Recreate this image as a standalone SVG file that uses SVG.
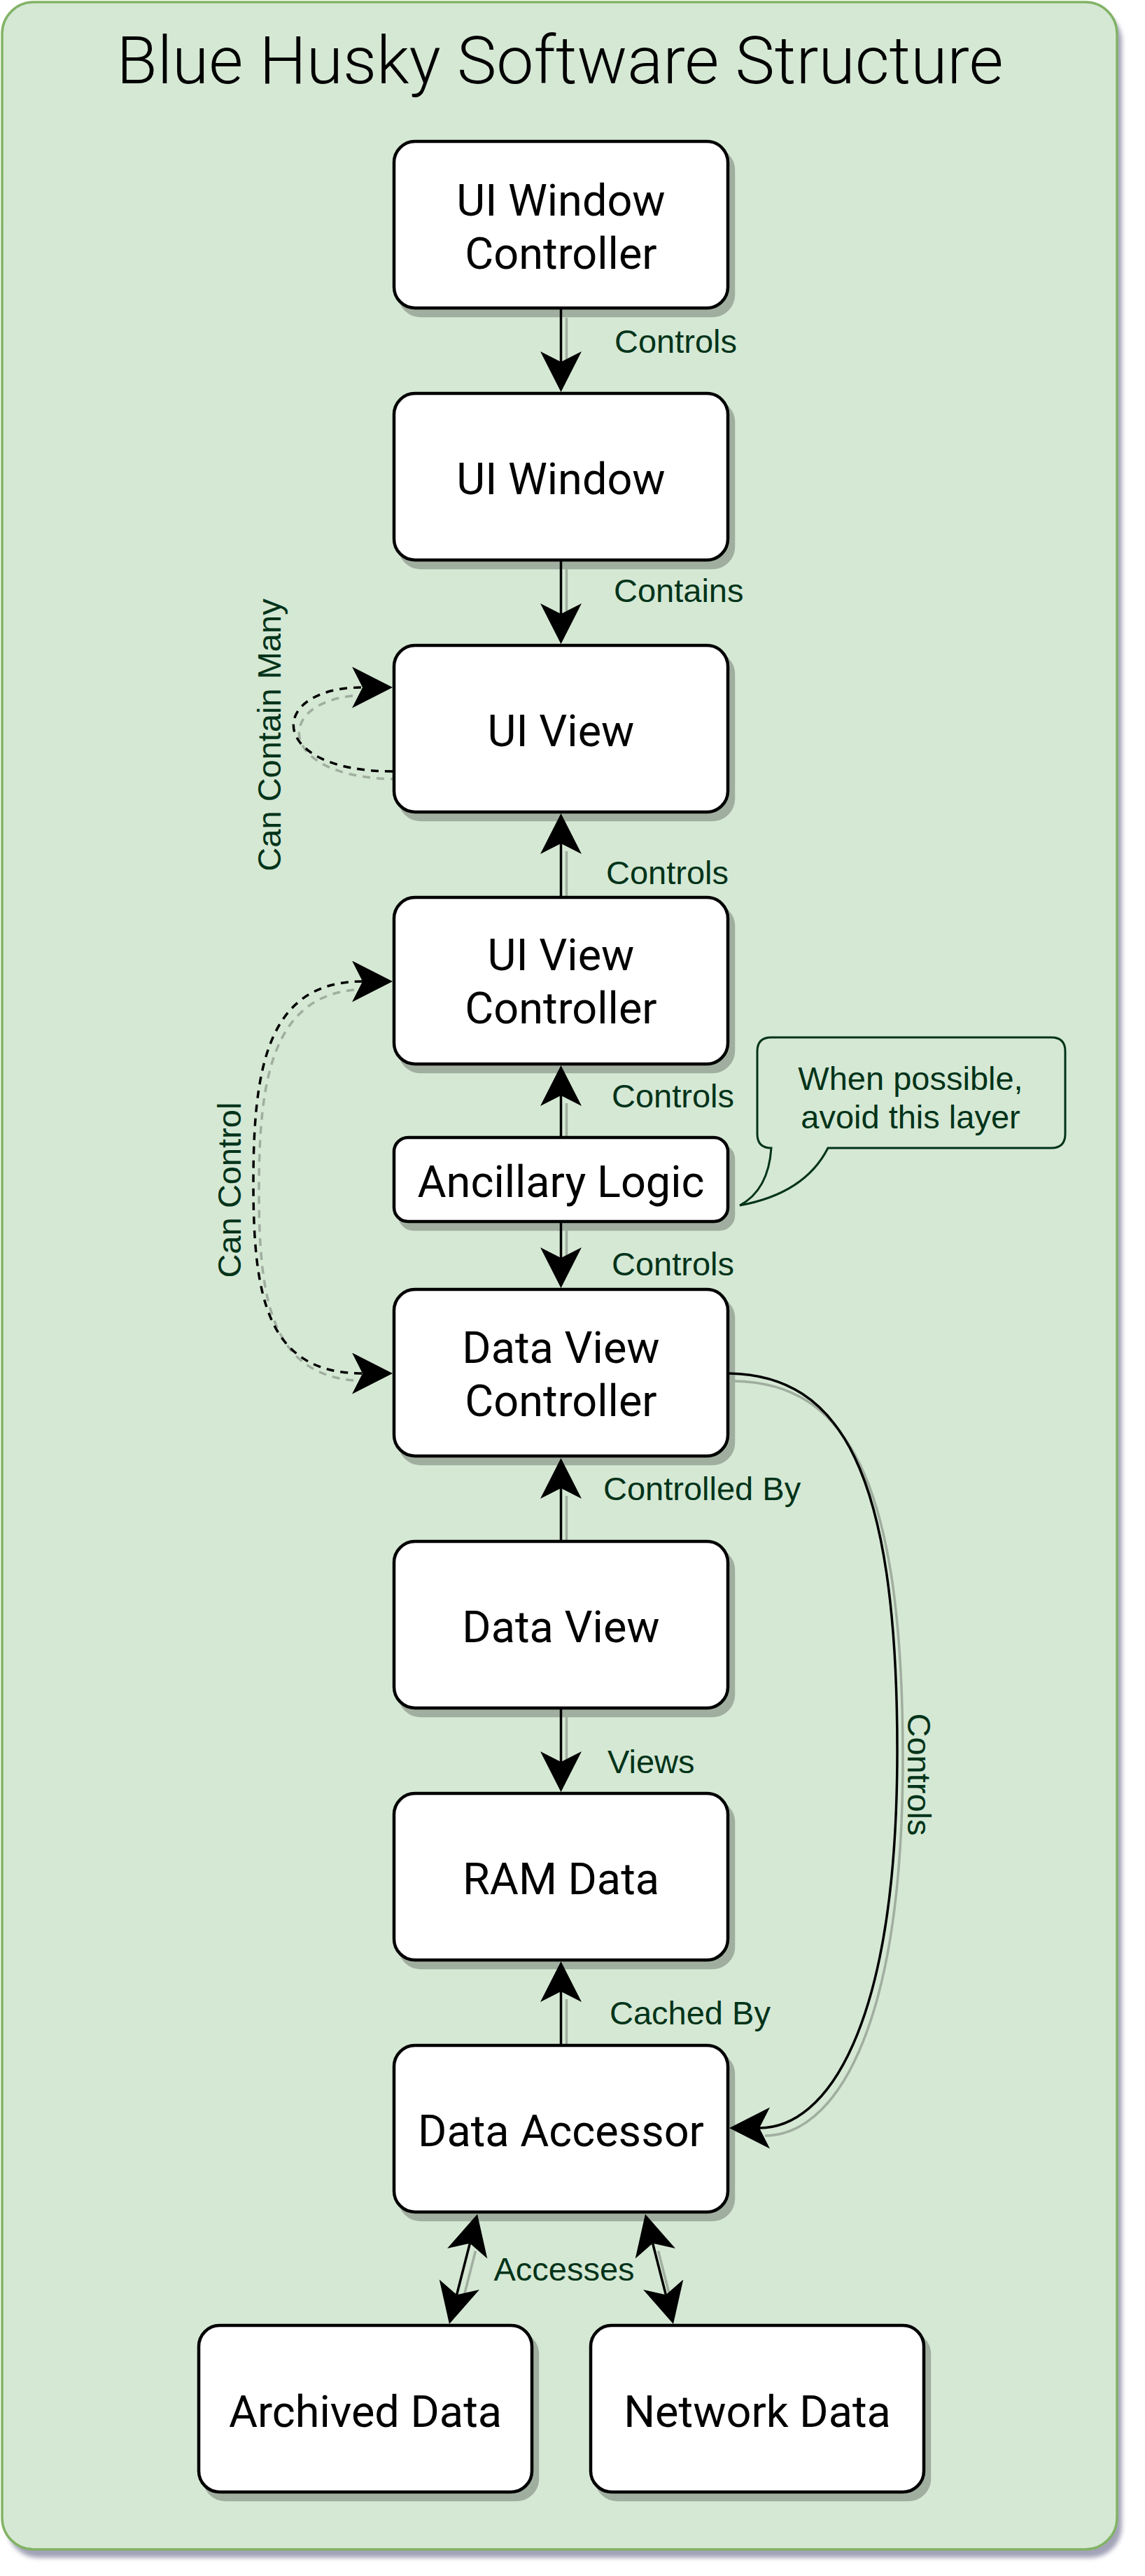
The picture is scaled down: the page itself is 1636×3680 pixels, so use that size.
<svg xmlns="http://www.w3.org/2000/svg" width="1636" height="3680" viewBox="0 0 1636 3680">
<style>
.node{fill:#fff;stroke:#000;stroke-width:4.5}
.shd{fill:#a0ae9f;stroke:#a0ae9f;stroke-width:4.5}
.nt{font-family:Roboto,"Liberation Sans",sans-serif;font-size:63px;fill:#000;text-anchor:middle}
.lbl{font-family:"Liberation Sans",Arial,sans-serif;font-size:47px;fill:#003319}
.edge{fill:none;stroke:#000;stroke-width:3.5}
.eshd{fill:none;stroke:#a0ae9f;stroke-width:3.5}
.dash{stroke-dasharray:11 9}
</style>
<defs>
<marker id="arr" markerUnits="userSpaceOnUse" markerWidth="60" markerHeight="60" viewBox="0 0 60 60" refX="15" refY="29.5" orient="auto-start-reverse">
<path d="M0,0 L58,29.5 L0,59 L15,29.5 Z" fill="#000"/>
</marker>
<filter id="blur" x="-5%" y="-5%" width="110%" height="110%"><feGaussianBlur stdDeviation="3"/></filter>
</defs>

<g id="container">
<rect x="10" y="14" width="1593" height="3640" rx="45" fill="#a3a3b8" filter="url(#blur)"/>
<rect x="3" y="3" width="1593" height="3639" rx="45" fill="#d5e8d4" stroke="#82b366" stroke-width="3.5"/>
<text x="800" y="119" font-family="Roboto,'Liberation Sans',sans-serif" font-weight="300" font-size="95" text-anchor="middle" fill="#000">Blue Husky Software Structure</text>
</g>

<g id="connector-shadows">
<path class="eshd" d="M809.5,454 L809.5,528"/>
<path class="eshd" d="M809.5,813 L809.5,888"/>
<path class="eshd" d="M809.5,1291 L809.5,1216"/>
<path class="eshd" d="M809.5,1634 L809.5,1576"/>
<path class="eshd" d="M809.5,1758 L809.5,1808"/>
<path class="eshd" d="M809.5,2211 L809.5,2137"/>
<path class="eshd" d="M809.5,2453 L809.5,2528"/>
<path class="eshd" d="M809.5,2931 L809.5,2856"/>
<path class="eshd" d="M1050,1973 C1208,1976 1290,2111 1290,2511 C1290,2911 1188,3051 1093,3051" stroke-width="3"/>
<path class="eshd dash" d="M569,1113 C388,1113 388,993 526,993"/>
<path class="eshd dash" d="M526,1413 C388,1413 370,1541 370,1701 C370,1861 388,1973 526,1973"/>
<path class="eshd" d="M679.4,3215.7 L660.6,3289.3"/>
<path class="eshd" d="M940.6,3215.7 L959.4,3289.3"/>
</g>

<g id="n-uiwc">
<rect class="shd" x="571" y="213" width="477" height="238" rx="30"/>
<rect class="node" x="563" y="202" width="477" height="238" rx="30"/>
<text class="nt" x="801.5" y="308">UI Window</text>
<text class="nt" x="801.5" y="384">Controller</text>
</g>
<g id="n-uiw">
<rect class="shd" x="571" y="573" width="477" height="238" rx="30"/>
<rect class="node" x="563" y="562" width="477" height="238" rx="30"/>
<text class="nt" x="801.5" y="705.5">UI Window</text>
</g>
<g id="n-uiv">
<rect class="shd" x="571" y="933" width="477" height="238" rx="30"/>
<rect class="node" x="563" y="922" width="477" height="238" rx="30"/>
<text class="nt" x="801.5" y="1065.5">UI View</text>
</g>
<g id="n-uivc">
<rect class="shd" x="571" y="1293" width="477" height="238" rx="30"/>
<rect class="node" x="563" y="1282" width="477" height="238" rx="30"/>
<text class="nt" x="801.5" y="1386">UI View</text>
<text class="nt" x="801.5" y="1462">Controller</text>
</g>
<g id="n-anc">
<rect class="shd" x="571" y="1636" width="477" height="120" rx="20"/>
<rect class="node" x="563" y="1625" width="477" height="120" rx="20"/>
<text class="nt" x="801.5" y="1710">Ancillary Logic</text>
</g>
<g id="n-dvc">
<rect class="shd" x="571" y="1853" width="477" height="238" rx="30"/>
<rect class="node" x="563" y="1842" width="477" height="238" rx="30"/>
<text class="nt" x="801.5" y="1947">Data View</text>
<text class="nt" x="801.5" y="2023">Controller</text>
</g>
<g id="n-dv">
<rect class="shd" x="571" y="2213" width="477" height="238" rx="30"/>
<rect class="node" x="563" y="2202" width="477" height="238" rx="30"/>
<text class="nt" x="801.5" y="2345.5">Data View</text>
</g>
<g id="n-ram">
<rect class="shd" x="571" y="2573" width="477" height="238" rx="30"/>
<rect class="node" x="563" y="2562" width="477" height="238" rx="30"/>
<text class="nt" x="801.5" y="2705.5">RAM Data</text>
</g>
<g id="n-acc">
<rect class="shd" x="571" y="2933" width="477" height="238" rx="30"/>
<rect class="node" x="563" y="2922" width="477" height="238" rx="30"/>
<text class="nt" x="801.5" y="3065.5">Data Accessor</text>
</g>
<g id="n-arch">
<rect class="shd" x="292" y="3333" width="476" height="238" rx="30"/>
<rect class="node" x="284" y="3322" width="476" height="238" rx="30"/>
<text class="nt" x="522" y="3467">Archived Data</text>
</g>
<g id="n-net">
<rect class="shd" x="852" y="3333" width="476" height="238" rx="30"/>
<rect class="node" x="844" y="3322" width="476" height="238" rx="30"/>
<text class="nt" x="1082" y="3467">Network Data</text>
</g>
<g id="n-callout">
<path d="M1102,1640 Q1098,1700 1057,1722 Q1150,1705 1183,1640 L1502,1640 Q1522,1640 1522,1620 L1522,1502 Q1522,1482 1502,1482 L1102,1482 Q1082,1482 1082,1502 L1082,1620 Q1082,1640 1102,1640 Z" fill="#d5e8d4" stroke="#003319" stroke-width="3"/>
<text class="lbl" x="1301" y="1557" text-anchor="middle">When possible,</text>
<text class="lbl" x="1301" y="1612" text-anchor="middle">avoid this layer</text>
</g>

<g id="connectors">
<path class="edge" d="M801.5,442 L801.5,517" marker-end="url(#arr)"/>
<path class="edge" d="M801.5,802 L801.5,877" marker-end="url(#arr)"/>
<path class="edge" d="M801.5,1280 L801.5,1205" marker-end="url(#arr)"/>
<path class="edge" d="M801.5,1623 L801.5,1565" marker-end="url(#arr)"/>
<path class="edge" d="M801.5,1747 L801.5,1797" marker-end="url(#arr)"/>
<path class="edge" d="M801.5,2200 L801.5,2126" marker-end="url(#arr)"/>
<path class="edge" d="M801.5,2442 L801.5,2517" marker-end="url(#arr)"/>
<path class="edge" d="M801.5,2920 L801.5,2845" marker-end="url(#arr)"/>
<path class="edge" d="M1042,1962 C1200,1965 1282,2100 1282,2500 C1282,2900 1180,3040 1085,3040" stroke-width="3" marker-end="url(#arr)"/>
<path class="edge dash" d="M561,1102 C380,1102 380,982 518,982" marker-end="url(#arr)"/>
<path class="edge dash" d="M518,1402 C380,1402 362,1530 362,1690 C362,1850 380,1962 518,1962" marker-start="url(#arr)" marker-end="url(#arr)"/>
<path class="edge" d="M671.4,3204.7 L652.6,3278.3" marker-start="url(#arr)" marker-end="url(#arr)"/>
<path class="edge" d="M932.6,3204.7 L951.4,3278.3" marker-start="url(#arr)" marker-end="url(#arr)"/>
<text class="lbl" x="878" y="504">Controls</text>
<text class="lbl" x="877" y="860">Contains</text>
<text class="lbl" x="866" y="1263">Controls</text>
<text class="lbl" x="874" y="1582">Controls</text>
<text class="lbl" x="874" y="1822">Controls</text>
<text class="lbl" x="862" y="2143">Controlled By</text>
<text class="lbl" x="868" y="2533">Views</text>
<text class="lbl" x="871" y="2892">Cached By</text>
<text class="lbl" x="806" y="3258" text-anchor="middle">Accesses</text>
<text class="lbl" transform="translate(401,1050) rotate(-90)" text-anchor="middle">Can Contain Many</text>
<text class="lbl" transform="translate(344,1700) rotate(-90)" text-anchor="middle">Can Control</text>
<text class="lbl" transform="translate(1297,2535) rotate(90)" text-anchor="middle">Controls</text>
</g>
</svg>
